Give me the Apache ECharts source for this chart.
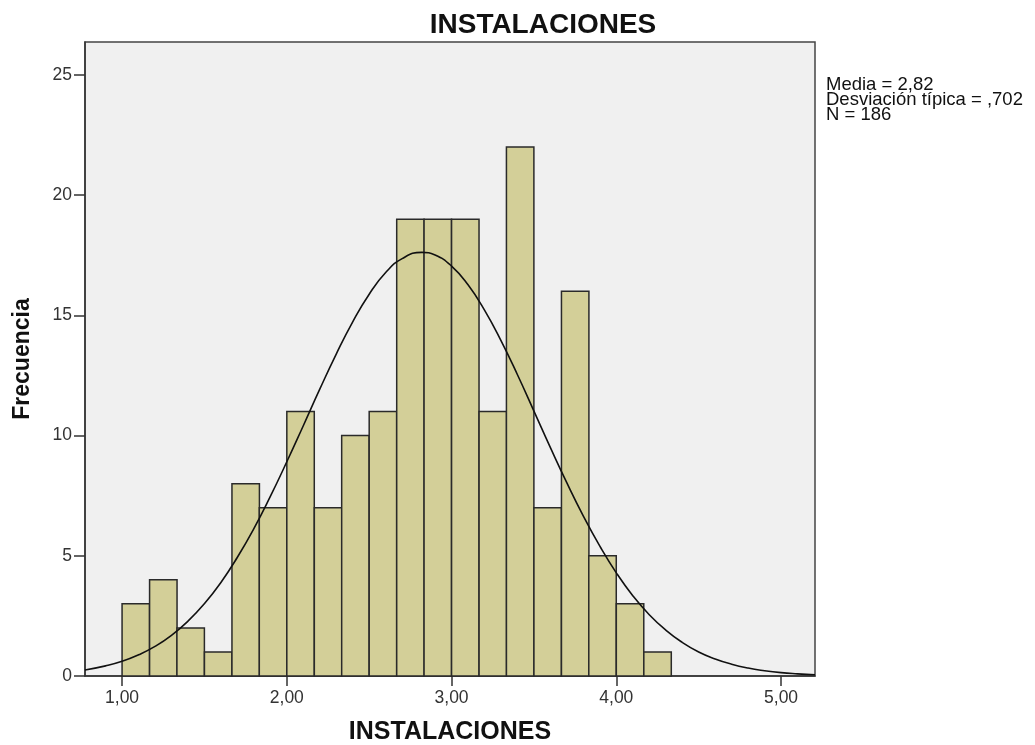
<!DOCTYPE html>
<html>
<head>
<meta charset="utf-8">
<script src="https://cdn.jsdelivr.net/npm/echarts@6/dist/echarts.min.js"></script>
<style>
html,body{margin:0;padding:0;background:#fff;}
#chart{width:1035px;height:745px;}
</style>
</head>
<body>
<div id="chart"></div>
<script>
// Histogram bins (lower edge) and frequencies
const binLower = [1.000, 1.167, 1.333, 1.500, 1.667, 1.833, 2.000, 2.167, 2.333, 2.500,
                  2.667, 2.833, 3.000, 3.167, 3.333, 3.500, 3.667, 3.833, 4.000, 4.167];
const binWidth = 0.1667;
const frequencies = [3, 4, 2, 1, 8, 7, 11, 7, 10, 11, 19, 19, 19, 11, 22, 7, 16, 5, 3, 1];

// Normal curve points
const curveX = [0.775, 0.9, 1.0, 1.1, 1.2, 1.3, 1.4, 1.5, 1.6, 1.7, 1.8, 1.9, 2.0, 2.1, 2.2, 2.3, 2.4,
                2.5, 2.6, 2.7, 2.82, 2.9, 3.0, 3.1, 3.2, 3.3, 3.4, 3.5, 3.6, 3.7, 3.8, 3.9, 4.0, 4.1,
                4.2, 4.3, 4.4, 4.5, 4.6, 4.7, 4.8, 4.9, 5.0, 5.1, 5.206];
const curveY = [0.25, 0.42, 0.61, 0.88, 1.23, 1.69, 2.28, 3.01, 3.89, 4.94, 6.13, 7.47, 8.91, 10.41,
                11.93, 13.39, 14.73, 15.88, 16.78, 17.36, 17.62, 17.51, 17.05, 16.27, 15.22, 13.95,
                12.53, 11.02, 9.50, 8.03, 6.65, 5.40, 4.29, 3.34, 2.55, 1.91, 1.40, 1.00, 0.71,
                0.49, 0.33, 0.22, 0.14, 0.09, 0.05];

const xTicks = [1, 2, 3, 4, 5];
const yTicks = [0, 5, 10, 15, 20, 25];
const statsLines = ['Media = 2,82', 'Desviación típica = ,702', 'N = 186'];
const chartTitle = 'INSTALACIONES';
const xName = 'INSTALACIONES';
const yName = 'Frecuencia';

const histData = binLower.map((lo, i) => [lo, lo + binWidth, frequencies[i]]);
const curveData = curveX.map((x, i) => [x, curveY[i]]);

const chart = echarts.init(document.getElementById('chart'), null, {renderer: 'canvas'});
const font = 'Liberation Sans, Arial, sans-serif';

chart.setOption({
  animation: false,
  backgroundColor: '#ffffff',
  title: {
    text: chartTitle,
    left: 538,
    textAlign: 'center',
    top: 6,
    textStyle: {fontFamily: font, fontWeight: 'bold', fontSize: 28, color: '#111'}
  },
  grid: {
    left: 85, top: 42, width: 730, height: 634,
    outerBoundsMode: 'none',
    containLabel: false,
    show: true, backgroundColor: '#f0f0f0', borderColor: '#444', borderWidth: 1.5
  },
  xAxis: {
    type: 'value', min: 0.775, max: 5.206,
    name: xName, nameLocation: 'middle', nameGap: 44,
    nameTextStyle: {fontFamily: font, fontWeight: 'bold', fontSize: 25, color: '#111'},
    axisLine: {show: true, onZero: false, lineStyle: {color: '#333', width: 1.5}},
    axisTick: {show: true, length: 10, customValues: xTicks, lineStyle: {color: '#333', width: 1.5}},
    axisLabel: {customValues: xTicks, margin: 13, fontFamily: font, fontSize: 17.5, color: '#333',
      formatter: v => v.toFixed(2).replace('.', ',')},
    splitLine: {show: false}
  },
  yAxis: {
    type: 'value', min: 0, max: 26.37,
    name: yName, nameLocation: 'middle', nameGap: 51,
    nameTextStyle: {fontFamily: font, fontWeight: 'bold', fontSize: 23, color: '#111'},
    axisLine: {show: true, lineStyle: {color: '#333', width: 1.5}},
    axisTick: {show: true, length: 11, customValues: yTicks, lineStyle: {color: '#333', width: 1.5}},
    axisLabel: {customValues: yTicks, margin: 13, fontFamily: font, fontSize: 17.5, color: '#333'},
    splitLine: {show: false}
  },
  graphic: [{
    type: 'text', left: 826, top: 75,
    style: {text: statsLines.join('\n'), fontFamily: font, fontSize: 18.5, lineHeight: 15, fill: '#111'}
  }],
  series: [{
    type: 'custom',
    data: histData,
    encode: {x: [0, 1], y: 2},
    renderItem: function (params, api) {
      const p0 = api.coord([api.value(0), 0]);
      const p1 = api.coord([api.value(1), api.value(2)]);
      return {
        type: 'rect',
        shape: {x: p0[0], y: p1[1], width: p1[0] - p0[0], height: p0[1] - p1[1]},
        style: {fill: '#d3cf98', stroke: '#2a2a2a', lineWidth: 1.5}
      };
    },
    z: 2
  }, {
    type: 'line',
    data: curveData,
    smooth: true,
    showSymbol: false,
    symbol: 'none',
    lineStyle: {color: '#111', width: 1.6},
    z: 3
  }]
});
</script>
</body>
</html>
